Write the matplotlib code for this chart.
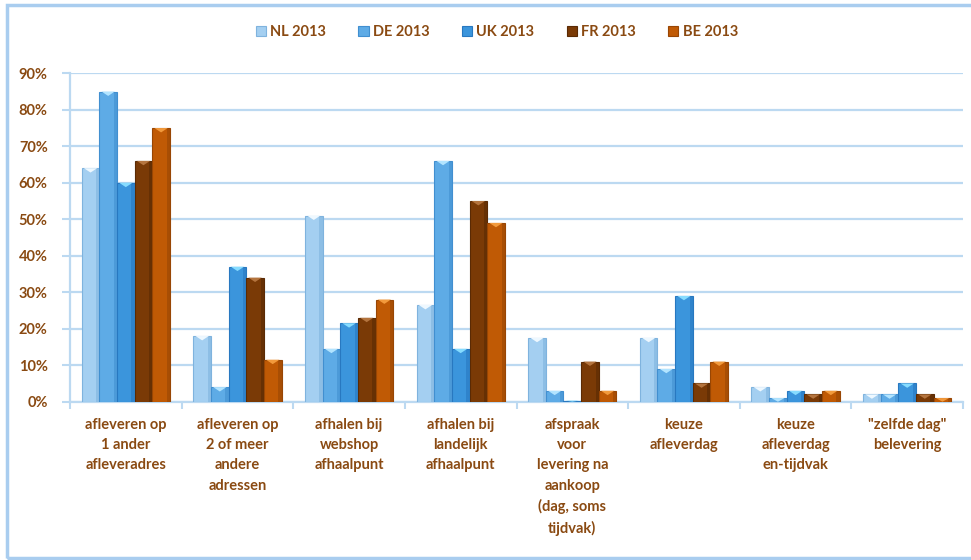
import matplotlib
matplotlib.use('Agg')
import matplotlib.pyplot as plt
from matplotlib.patches import Rectangle, Polygon
import numpy as np

# leveringsopties per land (aandeel webshops, 2013)
categories = ['afleveren op\n1 ander\nafleveradres',
              'afleveren op\n2 of meer\nandere\nadressen',
              'afhalen bij\nwebshop\nafhaalpunt',
              'afhalen bij\nlandelijk\nafhaalpunt',
              'afspraak\nvoor\nlevering na\naankoop\n(dag, soms\ntijdvak)',
              'keuze\nafleverdag',
              'keuze\nafleverdag\nen-tijdvak',
              '"zelfde dag"\nbelevering']
series = ['NL 2013', 'DE 2013', 'UK 2013', 'FR 2013', 'BE 2013']
nl = [64, 18, 51, 26.5, 17.5, 17.5, 4, 2]
de = [85, 4, 14.5, 66, 3, 9, 1, 2]
uk = [60, 37, 21.5, 14.5, 0.3, 29, 3, 5]
fr = [66, 34, 23, 55, 11, 5, 2, 2]
be = [75, 11.5, 28, 49, 3, 11, 3, 1]
values = [nl, de, uk, fr, be]

colors = ['#a4cff1', '#5eabe6', '#3b95dc', '#7a3a06', '#c05a05']
edges = ['#7fb3de', '#418fd0', '#2878c0', '#5a2a04', '#984604']
caps = ['#eef8ff', '#b2e4ff', '#86dcff', '#b4743e', '#f29a3c']
text_col = '#8a4a12'
grid_col = '#bcd9f1'

plt.rcParams['font.family'] = ['Lato', 'DejaVu Sans']
plt.rcParams['font.weight'] = 'bold'

fig = plt.figure(figsize=(9.71, 5.60), dpi=100)
ax = fig.add_axes([70/971, 1-401.7/560, (963-70)/971, (401.7-73.3)/560])

x = np.arange(len(categories))
w = 0.158
for i, (vals, c, ec, cap) in enumerate(zip(values, colors, edges, caps)):
    pos = x + (i - 2) * w
    bars = ax.bar(pos, np.array(vals)/100, width=w, color=c, edgecolor=ec,
                  linewidth=0.8, label=series[i], zorder=3)
    # kleine lichte punt bovenop elke staaf
    for b in bars:
        bx, bw, bh = b.get_x(), b.get_width(), b.get_height()
        ch = min(0.012, bh)
        tri = Polygon([(bx + bw*0.12, bh), (bx + bw*0.88, bh),
                       (bx + bw*0.5, bh - ch)], closed=True,
                      facecolor=cap, edgecolor='none', zorder=4)
        ax.add_patch(tri)
        # donkere rand rechts voor wat diepte
        ax.add_patch(Rectangle((bx + bw*0.82, 0), bw*0.18, bh, facecolor=ec,
                               edgecolor='none', alpha=0.6, zorder=3.5))

ax.set_xlim(-0.5, len(categories) - 0.5)
ax.set_ylim(0, 0.9)
ax.set_yticks(np.arange(0, 0.91, 0.1))
ax.set_yticklabels(['%d%%' % v for v in range(0, 91, 10)])
ax.yaxis.grid(True, color=grid_col, linewidth=1.6, zorder=0)
ax.set_axisbelow(True)

ax.set_xticks(x)
ax.set_xticklabels(categories, linespacing=1.55, va='top')
ax.set_xticks(np.arange(-0.5, len(categories), 1), minor=True)
ax.tick_params(axis='x', which='major', length=0, pad=12, labelsize=10.5,
               labelcolor=text_col)
ax.tick_params(axis='x', which='minor', length=5, color=grid_col, width=1.5)
ax.tick_params(axis='y', length=6, color=grid_col, width=1.5, pad=10,
               labelsize=10.5, labelcolor=text_col)

for s in ['top', 'right']:
    ax.spines[s].set_visible(False)
for s in ['left', 'bottom']:
    ax.spines[s].set_color(grid_col)
    ax.spines[s].set_linewidth(1.6)

fig.legend(loc='center', bbox_to_anchor=(497/971, 1-32/560), ncol=5,
           frameon=False, fontsize=10.5, handlelength=0.7, handleheight=0.7,
           columnspacing=2.2, handletextpad=0.3, labelcolor=text_col)

# blauwe kader rond de grafiek
fig.patches.append(Rectangle((7/971, 2/560), 1.0, 553/560, transform=fig.transFigure,
                             fill=False, edgecolor='#a9cdef', linewidth=2.5))

fig.savefig('out.png', dpi=100)
